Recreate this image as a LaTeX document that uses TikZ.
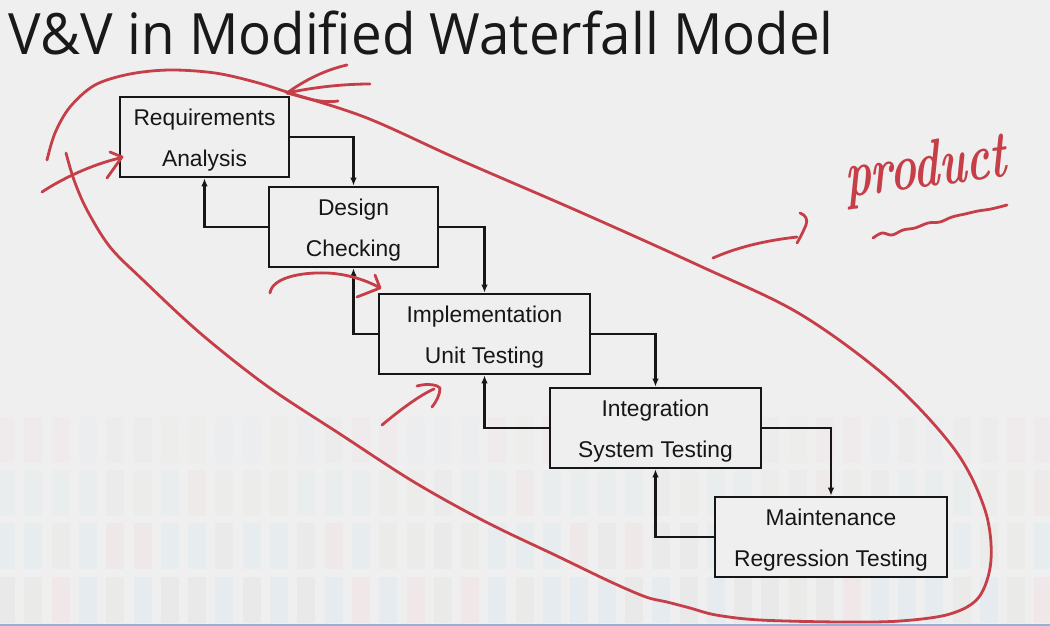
\documentclass[tikz,border=0pt]{standalone}
\usepackage{fontspec}
\newfontfamily\boxfont{Liberation Sans}
\newfontfamily\titlefont{Open Sans}
\usetikzlibrary{arrows.meta}

\definecolor{slidebg}{RGB}{239,239,239}
\definecolor{ink}{RGB}{22,22,22}
\definecolor{pen}{RGB}{198,62,72}
\definecolor{stA}{RGB}{226,226,226}
\definecolor{stB}{RGB}{218,232,238}
\definecolor{stC}{RGB}{240,222,224}
\definecolor{stD}{RGB}{230,230,224}
\definecolor{edgeblue}{RGB}{150,176,216}

% invisible strut that lowers the first line of a stage label a little
\newcommand\firstrow{\rule{0pt}{22pt}}

\begin{document}
\begin{tikzpicture}[x=1pt,y=-1pt,
  stage/.style={draw=ink, line width=2.6pt, fill=slidebg, minimum height=80pt,
    inner sep=0pt, align=center, text=ink,
    font=\boxfont\fontsize{22.8}{41}\selectfont},
  flow/.style={draw=ink, line width=2.2pt, -{Latex[length=8pt,width=6.5pt]}},
  penline/.style={draw=pen, line width=2.8pt, line cap=round, line join=round}]

\useasboundingbox (0,0) rectangle (1050,626);
\fill[slidebg] (0,0) rectangle (1050,626);

% faint tiled strip along the lower part of the slide
\pgfmathsetseed{7}
\pgfmathdeclarerandomlist{tints}{{stA}{stB}{stC}{stD}{stB}}
\foreach \yt/\op in {417/0.18,470/0.28,523/0.38,577/0.45}{
  \foreach \c in {0,...,38}{
    \pgfmathrandomitem{\tint}{tints}
    \fill[fill=\tint, opacity=\op] ({\c*27.3-3},\yt) rectangle ++(18,46);
  }
}
\fill[edgeblue] (0,624) rectangle (1050,626);

% title
\node[anchor=base west, inner sep=0pt, xscale=0.96, text=black!90,
  font=\titlefont\fontsize{57}{57}\selectfont] (title) at (8,55)
  {V\&V in Modified Waterfall Model};

% waterfall stages
\node[stage, minimum width=169pt] (req)  at (204.5,137) {\firstrow Requirements\\Analysis};
\node[stage, minimum width=169pt] (des)  at (353.5,227) {\firstrow Design\\Checking};
\node[stage, minimum width=211pt] (impl) at (484.5,334) {\firstrow Implementation\\Unit Testing};
\node[stage, minimum width=211pt] (intg) at (655.5,428) {\firstrow Integration\\System Testing};
\node[stage, minimum width=232pt] (mnt)  at (831,537)   {\firstrow Maintenance\\Regression Testing};

% forward and feedback flows
\draw[flow] (req.east)  -| (des.north);
\draw[flow] (des.west)  -| (req.south);
\draw[flow] (des.east)  -| (impl.north);
\draw[flow] (impl.west) -| (des.south);
\draw[flow] (impl.east) -| (intg.north);
\draw[flow] (intg.west) -| (impl.south);
\draw[flow] (intg.east) -| (mnt.north);
\draw[flow] (mnt.west)  -| (intg.south);

% hand-drawn loop around the whole process
\draw[penline] plot[smooth, tension=0.55] coordinates {
  (47,160) (55,133) (70,107) (95,85) (130,74) (170,70) (215,73) (255,82)
  (290,93) (367,118) (460,160) (580,212) (700,266) (800,314) (890,380)
  (955,450) (985,510) (991,560) (979,597) (950,614) (900,621) (840,622)
  (760,620) (716,615) (690,608) (667,602) (646,597) (611,582) (557,556)
  (486,522) (414,482) (340,434) (267,386) (200,333) (143,280)
  (110,247) (87,210) (74,180) (66,153)};

% arrowhead on the loop at the top
\draw[penline] (287,93) .. controls (305,80) and (325,70) .. (347,65);
\draw[penline] (287,93) .. controls (310,88) and (340,84) .. (370,84);
\draw[penline] (287,93) .. controls (300,96) and (320,104) .. (338,101);

% arrow into the first stage
\draw[penline] (42,192) .. controls (60,180) and (90,165) .. (120,158);
\draw[penline] (110,152) -- (122,157) -- (107,178);

% curved arrow towards Implementation
\draw[penline] (270,293) .. controls (272,278) and (300,272) .. (327,273)
  .. controls (350,274) and (370,282) .. (380,288);
\draw[penline] (375,275) -- (380,288) -- (357,297);

% arrow below Implementation
\draw[penline] (382,425) .. controls (400,410) and (420,395) .. (434,389);
\draw[penline] (417,386) .. controls (428,383) and (438,385) .. (440,388)
  .. controls (440,395) and (436,402) .. (432,407);

% arrow pointing at the note
\draw[penline] (713,258) .. controls (740,246) and (770,240) .. (797,237);
\draw[penline] (800,213) .. controls (806,215) and (808,220) .. (806,225)
  .. controls (803,232) and (800,238) .. (797,243);

% handwritten note and its wavy underline
\node[anchor=base west, inner sep=0pt, text=pen, yscale=1.45, xscale=0.95, rotate=5,
  font=\fontsize{46}{46}\selectfont\bfseries\itshape] (note) at (846,198) {product};
\draw[penline] plot[smooth, tension=0.6] coordinates {
  (873,238) (882,233) (892,235) (903,230) (915,228) (928,223) (940,222)
  (952,217) (965,214) (978,211) (991,209) (1007,205)};

\end{tikzpicture}
\end{document}
